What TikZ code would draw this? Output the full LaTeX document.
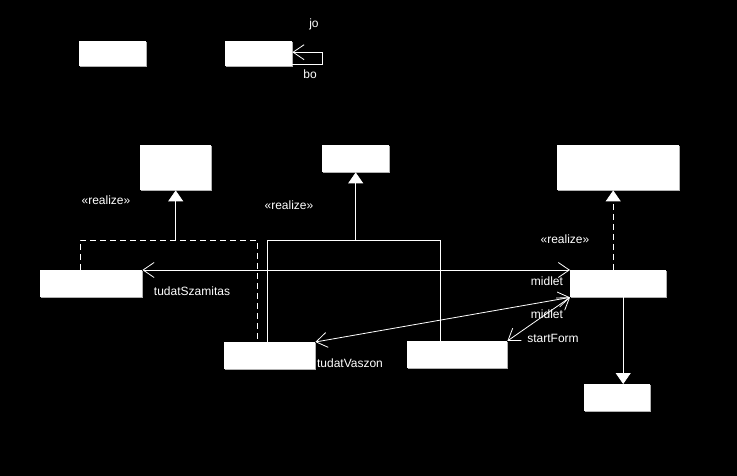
\documentclass[tikz,border=0pt]{standalone}
\usepackage{fontspec}
\setmainfont{Liberation Sans}
\usetikzlibrary{arrows.meta,positioning,shadows}

\begin{document}
\begin{tikzpicture}[x=1pt, y=-1pt, font=\fontsize{12}{14}\selectfont,
	   cls/.style={fill=white, anchor=north west, inner sep=0pt, drop shadow={shadow xshift=1.2pt, shadow yshift=-1.2pt, fill=gray!60, opacity=1}},
	   lbl/.style={text=white, inner sep=0pt},
	   wire/.style={draw=white, line width=0.8pt},
	   dashwire/.style={wire, dash pattern=on 6pt off 4pt},
	   realize/.style={wire, -{Triangle[length=11pt,width=15pt,fill=white]}},
	   assoc/.style={wire, {Straight Barb[length=11pt,width=15pt]}-{Straight Barb[length=11pt,width=15pt]}}]
	  \fill[black] (0,0) rectangle (737,476);
	  \useasboundingbox (0,0) rectangle (737,476);
	  % classes
	  \node[cls, minimum width=67pt, minimum height=25pt] (A) at (79,41) {};
	  \node[cls, minimum width=67pt, minimum height=25pt] (B) at (225,41) {};
	  \node[cls, minimum width=71pt, minimum height=45pt] (C) at (140,145) {};
	  \node[cls, minimum width=67pt, minimum height=27pt] (D) at (322,145) {};
	  \node[cls, minimum width=122pt, minimum height=45pt] (E) at (557,145) {};
	  \node[cls, minimum width=102pt, minimum height=27pt] (F) at (40,270) {};
	  \node[cls, minimum width=91pt, minimum height=27pt] (G) at (224,342) {};
	  \node[cls, minimum width=100pt, minimum height=27pt] (H) at (407,341) {};
	  \node[cls, minimum width=96pt, minimum height=27pt] (I) at (570,270) {};
	  \node[cls, minimum width=66pt, minimum height=27pt] (J) at (584,384) {};
	  % self association
	  \draw[wire, -{Straight Barb[length=11pt,width=15pt]}] ([yshift=2pt]B.south east) -- ++(30,0) |- ([yshift=1.5pt]B.east);
	  \node[lbl] (jo) at (314,24) {jo};
	  \node[lbl] (bo) at (310,74) {bo};
	  % realizations
	  \coordinate (lvl) at (0,240);
	  \coordinate (F1) at ([xshift=40pt]F.north west);
	  \coordinate (G1) at ([xshift=33pt]G.north west);
	  \draw[dashwire] (F1) -- (F1 |- lvl) -| (G1);
	  \draw[realize] (C.south |- lvl) -- (C.south);
	  \node[lbl] (r1) at (106,200) {«realize»};
	  \coordinate (G2) at ([xshift=43pt]G.north west);
	  \coordinate (H2) at ([xshift=33pt]H.north west);
	  \draw[wire] (G2) -- (G2 |- lvl) -| (H2);
	  \draw[realize] (D.south |- lvl) -- (D.south);
	  \node[lbl] (r2) at (289,205) {«realize»};
	  \coordinate (I3) at ([xshift=-5pt]I.north);
	  \draw[realize, dashwire] (I3) -- (I3 |- E.south);
	  \node[lbl] (r3) at (565,239) {«realize»};
	  \coordinate (I7) at ([xshift=5pt]I.south);
	  \draw[realize] (I7) -- (I7 |- J.north);
	  % associations
	  \draw[assoc] (F.north east) -- (I.north west);
	  \draw[assoc] (I.south west) -- (G.north east);
	  \draw[assoc] (I.south west) -- (H.north east);
	  \node[lbl] (tsz) at (192,291) {tudatSzamitas};
	  \node[lbl] (m1) at (547,281) {midlet};
	  \node[lbl] (m2) at (547,314) {midlet};
	  \node[lbl] (sf) at (553,338) {startForm};
	  \node[lbl] (tv) at (350,363) {tudatVaszon};
	\end{tikzpicture}
\end{document}
